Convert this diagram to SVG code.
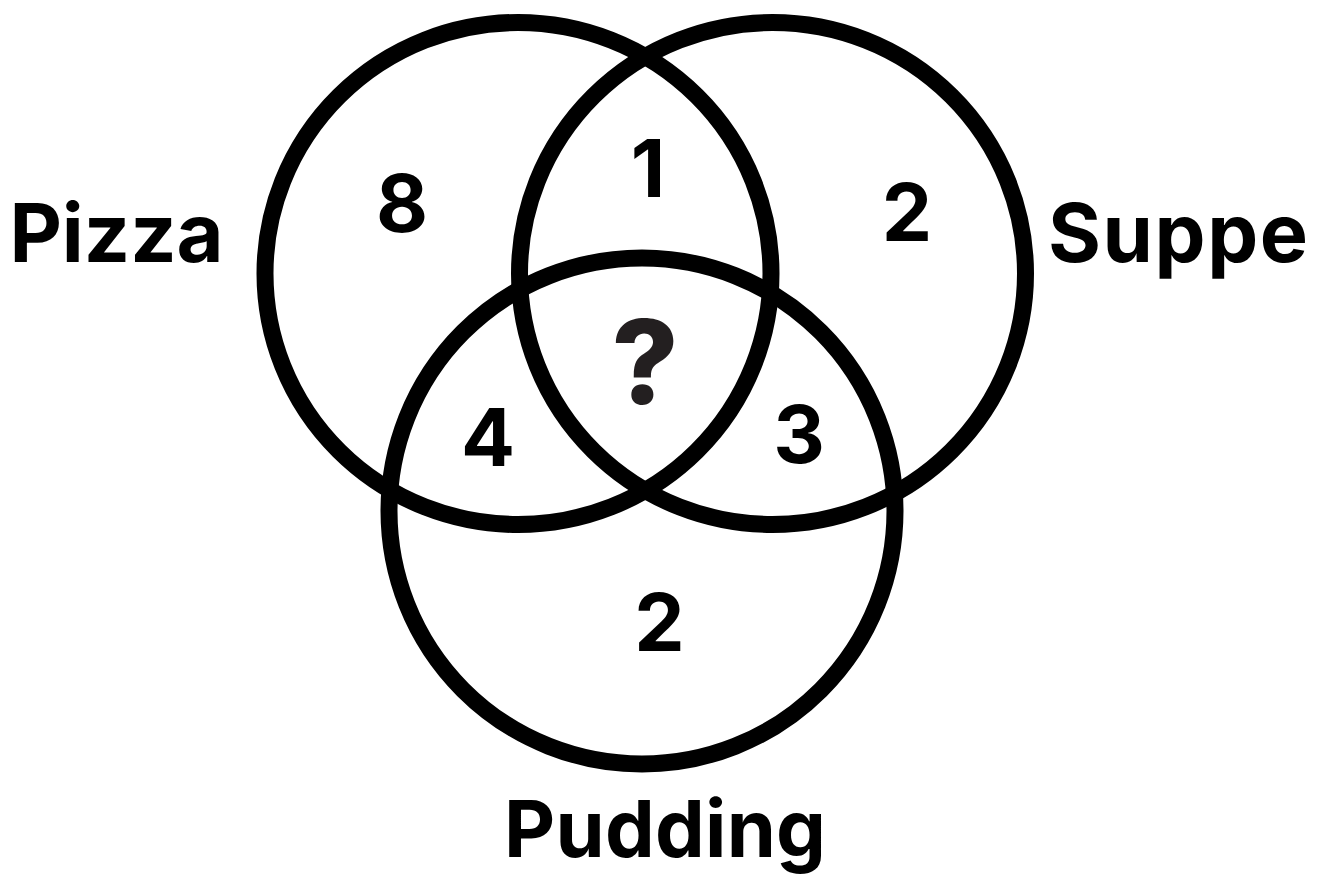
<svg xmlns="http://www.w3.org/2000/svg" width="1324" height="874" viewBox="0 0 1324 874">
<style>
.c{fill:none;stroke:#000;stroke-width:17}
.t{font-family:Inter,"Liberation Sans",sans-serif;font-weight:700;fill:#000;text-anchor:middle}
.n{font-size:80px}
.l{font-size:81px}
.q{font-family:Inter,"Liberation Sans",sans-serif;font-weight:800;font-size:116px;fill:#231f20;text-anchor:middle}
</style>
<rect width="1324" height="874" fill="#fff"/>
<g id="circles">
<ellipse id="pizza-circle" class="c" cx="518" cy="273.5" rx="253" ry="251"/>
<ellipse id="suppe-circle" class="c" cx="772.5" cy="273.5" rx="253" ry="251"/>
<ellipse id="pudding-circle" class="c" cx="642" cy="511" rx="253" ry="253"/>
</g>
<g id="labels">
<text id="pizza" class="t l" x="116.5" y="262">Pizza</text>
<text id="suppe" class="t l" x="1178" y="262" textLength="260" lengthAdjust="spacing">Suppe</text>
<text id="pudding" class="t" style="font-size:79px" x="665" y="857" textLength="322" lengthAdjust="spacing">Pudding</text>
</g>
<g id="numbers">
<text class="t n" x="402" y="232">8</text>
<text class="t n" x="648" y="197">1</text>
<text class="t n" x="907" y="241">2</text>
<text class="t n" x="488" y="466">4</text>
<text class="t n" x="799" y="463">3</text>
<text class="t n" x="659.5" y="651">2</text>
<text class="q" x="645" y="404">?</text>
</g>
</svg>
